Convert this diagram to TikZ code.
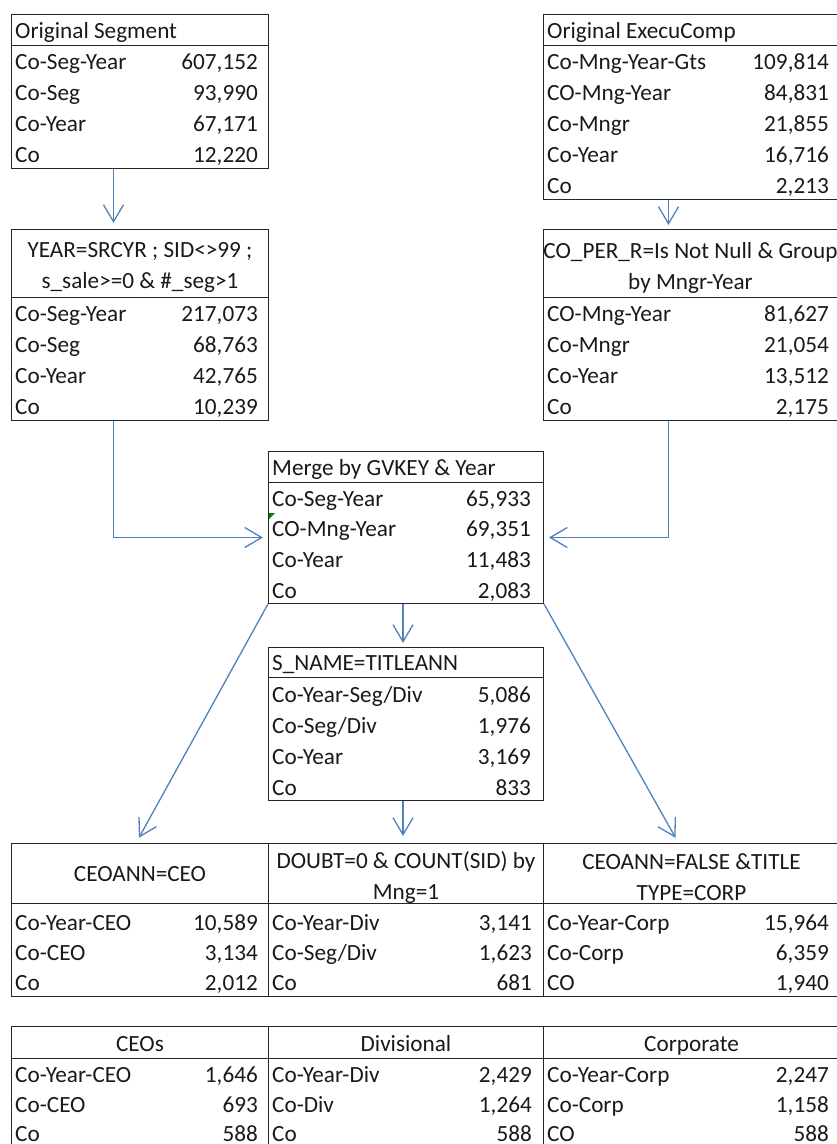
\documentclass[tikz,border=0pt]{standalone}
\usepackage{fontspec}
\setmainfont{Carlito}
\usetikzlibrary{arrows.meta}
\definecolor{arrblue}{RGB}{79,129,189}
\newcommand\cellfont{\fontsize{23.2}{31}\selectfont}

\begin{document}
\begin{tikzpicture}[x=1pt, y=-1pt, font=\cellfont, text=black!90,
  cell/.style={draw=black!85, line width=1pt, anchor=north west, inner sep=0pt, minimum width=#1},
  lab/.style={anchor=base west, inner sep=0pt},
  num/.style={anchor=base east, inner sep=0pt},
  hd/.style={align=center, inner sep=0pt},
  arr/.style={draw=arrblue, line width=1.3pt, -{Straight Barb[length=17pt,width=20pt]}, shorten >=#1},
  arr/.default=6pt]
\useasboundingbox (0,0) rectangle (837,1144);
% sources
\node[cell=257pt, minimum height=31pt] (seg-h) at (11,14) {};
\node[cell=257pt, minimum height=123pt] (seg) at (11,45) {};
\node[lab] (seg-t) at ([shift={(4,24.5)}]seg-h.north west) {Original Segment};
\foreach \l/\v [count=\i] in {Co-Seg-Year/{607,152}, Co-Seg/{93,990}, Co-Year/{67,171}, Co/{12,220}} {
  \node[lab] (seg-l\i) at ([shift={(4,30.75*\i-6)}]seg.north west) {\l};
  \node[num] (seg-v\i) at ([shift={(-11,30.75*\i-6)}]seg.north east) {\v};
}
\node[cell=296pt, minimum height=31pt] (exe-h) at (543,14) {};
\node[cell=296pt, minimum height=154pt] (exe) at (543,45) {};
\node[lab] (exe-t) at ([shift={(4,24.5)}]exe-h.north west) {Original ExecuComp};
\foreach \l/\v [count=\i] in {Co-Mng-Year-Gts/{109,814}, CO-Mng-Year/{84,831}, Co-Mngr/{21,855}, Co-Year/{16,716}, Co/{2,213}} {
  \node[lab] (exe-l\i) at ([shift={(4,30.8*\i-6)}]exe.north west) {\l};
  \node[num] (exe-v\i) at ([shift={(-11,30.8*\i-6)}]exe.north east) {\v};
}
% filters
\node[cell=257pt, minimum height=68pt] (flt1-h) at (11,229) {};
\node[cell=257pt, minimum height=123pt] (flt1) at (11,297) {};
\node[hd] (flt1-t) at ([yshift=-4pt]flt1-h.center) {YEAR=SRCYR ; SID<>99 ;\\s\_sale>=0 \& \#\_seg>1};
\foreach \l/\v [count=\i] in {Co-Seg-Year/{217,073}, Co-Seg/{68,763}, Co-Year/{42,765}, Co/{10,239}} {
  \node[lab] (flt1-l\i) at ([shift={(4,30.75*\i-6)}]flt1.north west) {\l};
  \node[num] (flt1-v\i) at ([shift={(-11,30.75*\i-6)}]flt1.north east) {\v};
}
\node[cell=296pt, minimum height=68pt] (flt2-h) at (543,229) {};
\node[cell=296pt, minimum height=123pt] (flt2) at (543,297) {};
\node[hd] (flt2-t) at ([shift={(-1,4)}]flt2-h.center) {CO\_PER\_R=Is Not Null \& Group\\by Mngr-Year};
\foreach \l/\v [count=\i] in {CO-Mng-Year/{81,627}, Co-Mngr/{21,054}, Co-Year/{13,512}, Co/{2,175}} {
  \node[lab] (flt2-l\i) at ([shift={(4,30.75*\i-6)}]flt2.north west) {\l};
  \node[num] (flt2-v\i) at ([shift={(-11,30.75*\i-6)}]flt2.north east) {\v};
}
% merge
\node[cell=275pt, minimum height=31pt] (mrg-h) at (268,451) {};
\node[cell=275pt, minimum height=121pt] (mrg) at (268,482) {};
\node[lab] (mrg-t) at ([shift={(4,24.5)}]mrg-h.north west) {Merge by GVKEY \& Year};
\foreach \l/\v [count=\i] in {Co-Seg-Year/{65,933}, CO-Mng-Year/{69,351}, Co-Year/{11,483}, Co/{2,083}} {
  \node[lab] (mrg-l\i) at ([shift={(4,30.7*\i-6.5)}]mrg.north west) {\l};
  \node[num] (mrg-v\i) at ([shift={(-13,30.7*\i-6.5)}]mrg.north east) {\v};
}
\fill[green!50!black] ([shift={(1,31)}]mrg.north west) -- ++(6,0) -- ++(-6,6) -- cycle;
\node[cell=275pt, minimum height=30pt] (snm-h) at (268,647) {};
\node[cell=275pt, minimum height=123pt] (snm) at (268,677) {};
\node[lab] (snm-t) at ([shift={(4,23.5)}]snm-h.north west) {S\_NAME=TITLEANN};
\foreach \l/\v [count=\i] in {{Co-Year-Seg/Div}/{5,086}, {Co-Seg/Div}/{1,976}, Co-Year/{3,169}, Co/{833}} {
  \node[lab] (snm-l\i) at ([shift={(4,31*\i-6)}]snm.north west) {\l};
  \node[num] (snm-v\i) at ([shift={(-13,31*\i-6)}]snm.north east) {\v};
}
% split
\node[cell=257pt, minimum height=60pt] (spl1-h) at (11,843) {};
\node[cell=275pt, minimum height=60pt] (spl2-h) at (268,843) {};
\node[cell=296pt, minimum height=60pt] (spl3-h) at (543,843) {};
\node[cell=257pt, minimum height=93pt] (spl1) at (11,903) {};
\node[cell=275pt, minimum height=93pt] (spl2) at (268,903) {};
\node[cell=296pt, minimum height=93pt] (spl3) at (543,903) {};
\node[hd] (spl1-t) at ([yshift=-1pt]spl1-h.center) {CEOANN=CEO};
\node[hd] (spl2-t) at ([yshift=-4pt]spl2-h.center) {DOUBT=0 \& COUNT(SID) by\\Mng=1};
\node[hd] (spl3-t) at ([yshift=-4pt]spl3-h.center) {CEOANN=FALSE \&TITLE\\TYPE=CORP};
\foreach \l/\v [count=\i] in {Co-Year-CEO/{10,589}, Co-CEO/{3,134}, Co/{2,012}} {
  \node[lab] (spl1-l\i) at ([shift={(4,30*\i-3)}]spl1.north west) {\l};
  \node[num] (spl1-v\i) at ([shift={(-11,30*\i-3)}]spl1.north east) {\v};
}
\foreach \l/\v [count=\i] in {Co-Year-Div/{3,141}, {Co-Seg/Div}/{1,623}, Co/{681}} {
  \node[lab] (spl2-l\i) at ([shift={(4,30*\i-3)}]spl2.north west) {\l};
  \node[num] (spl2-v\i) at ([shift={(-12,30*\i-3)}]spl2.north east) {\v};
}
\foreach \l/\v [count=\i] in {Co-Year-Corp/{15,964}, Co-Corp/{6,359}, CO/{1,940}} {
  \node[lab] (spl3-l\i) at ([shift={(4,30*\i-3)}]spl3.north west) {\l};
  \node[num] (spl3-v\i) at ([shift={(-11,30*\i-3)}]spl3.north east) {\v};
}
% final
\node[cell=257pt, minimum height=32pt] (fin1-h) at (11,1026) {};
\node[cell=275pt, minimum height=32pt] (fin2-h) at (268,1026) {};
\node[cell=296pt, minimum height=32pt] (fin3-h) at (543,1026) {};
\node[cell=257pt, minimum height=93pt] (fin1) at (11,1058) {};
\node[cell=275pt, minimum height=93pt] (fin2) at (268,1058) {};
\node[cell=296pt, minimum height=93pt] (fin3) at (543,1058) {};
\node[lab, anchor=base] (fin1-t) at ([yshift=-8.5pt]fin1-h.center) {CEOs};
\node[lab, anchor=base] (fin2-t) at ([yshift=-8.5pt]fin2-h.center) {Divisional};
\node[lab, anchor=base] (fin3-t) at ([yshift=-8.5pt]fin3-h.center) {Corporate};
\foreach \l/\v [count=\i] in {Co-Year-CEO/{1,646}, Co-CEO/{693}, Co/{588}} {
  \node[lab] (fin1-l\i) at ([shift={(4,29.5*\i-5)}]fin1.north west) {\l};
  \node[num] (fin1-v\i) at ([shift={(-11,29.5*\i-5)}]fin1.north east) {\v};
}
\foreach \l/\v [count=\i] in {Co-Year-Div/{2,429}, Co-Div/{1,264}, Co/{588}} {
  \node[lab] (fin2-l\i) at ([shift={(4,29.5*\i-5)}]fin2.north west) {\l};
  \node[num] (fin2-v\i) at ([shift={(-12,29.5*\i-5)}]fin2.north east) {\v};
}
\foreach \l/\v [count=\i] in {Co-Year-Corp/{2,247}, Co-Corp/{1,158}, CO/{588}} {
  \node[lab] (fin3-l\i) at ([shift={(4,29.5*\i-5)}]fin3.north west) {\l};
  \node[num] (fin3-v\i) at ([shift={(-11,29.5*\i-5)}]fin3.north east) {\v};
}
% arrows
\draw[arr] ([xshift=-26.5pt]seg.south) -- ([xshift=-26.5pt]flt1-h.north);
\draw[arr=4pt] ([xshift=-23pt]exe.south) -- ([xshift=-23pt]flt2-h.north);
\draw[arr=5pt] ([xshift=-26.5pt]flt1.south) |- ([yshift=5.5pt]mrg.west);
\draw[arr=5pt] ([xshift=-23pt]flt2.south) |- ([yshift=5.5pt]mrg.east);
\draw[arr=4pt] ([xshift=-3pt]mrg.south) -- ([xshift=-3pt]snm-h.north);
\draw[arr=7pt] ([xshift=-3pt]snm.south) -- ([xshift=-3pt]spl2-h.north);
\draw[arr] (mrg.south west) -- ([xshift=-4pt]spl1-h.north);
\draw[arr] (mrg.south east) -- ([xshift=-13pt]spl3-h.north);
\end{tikzpicture}
\end{document}
